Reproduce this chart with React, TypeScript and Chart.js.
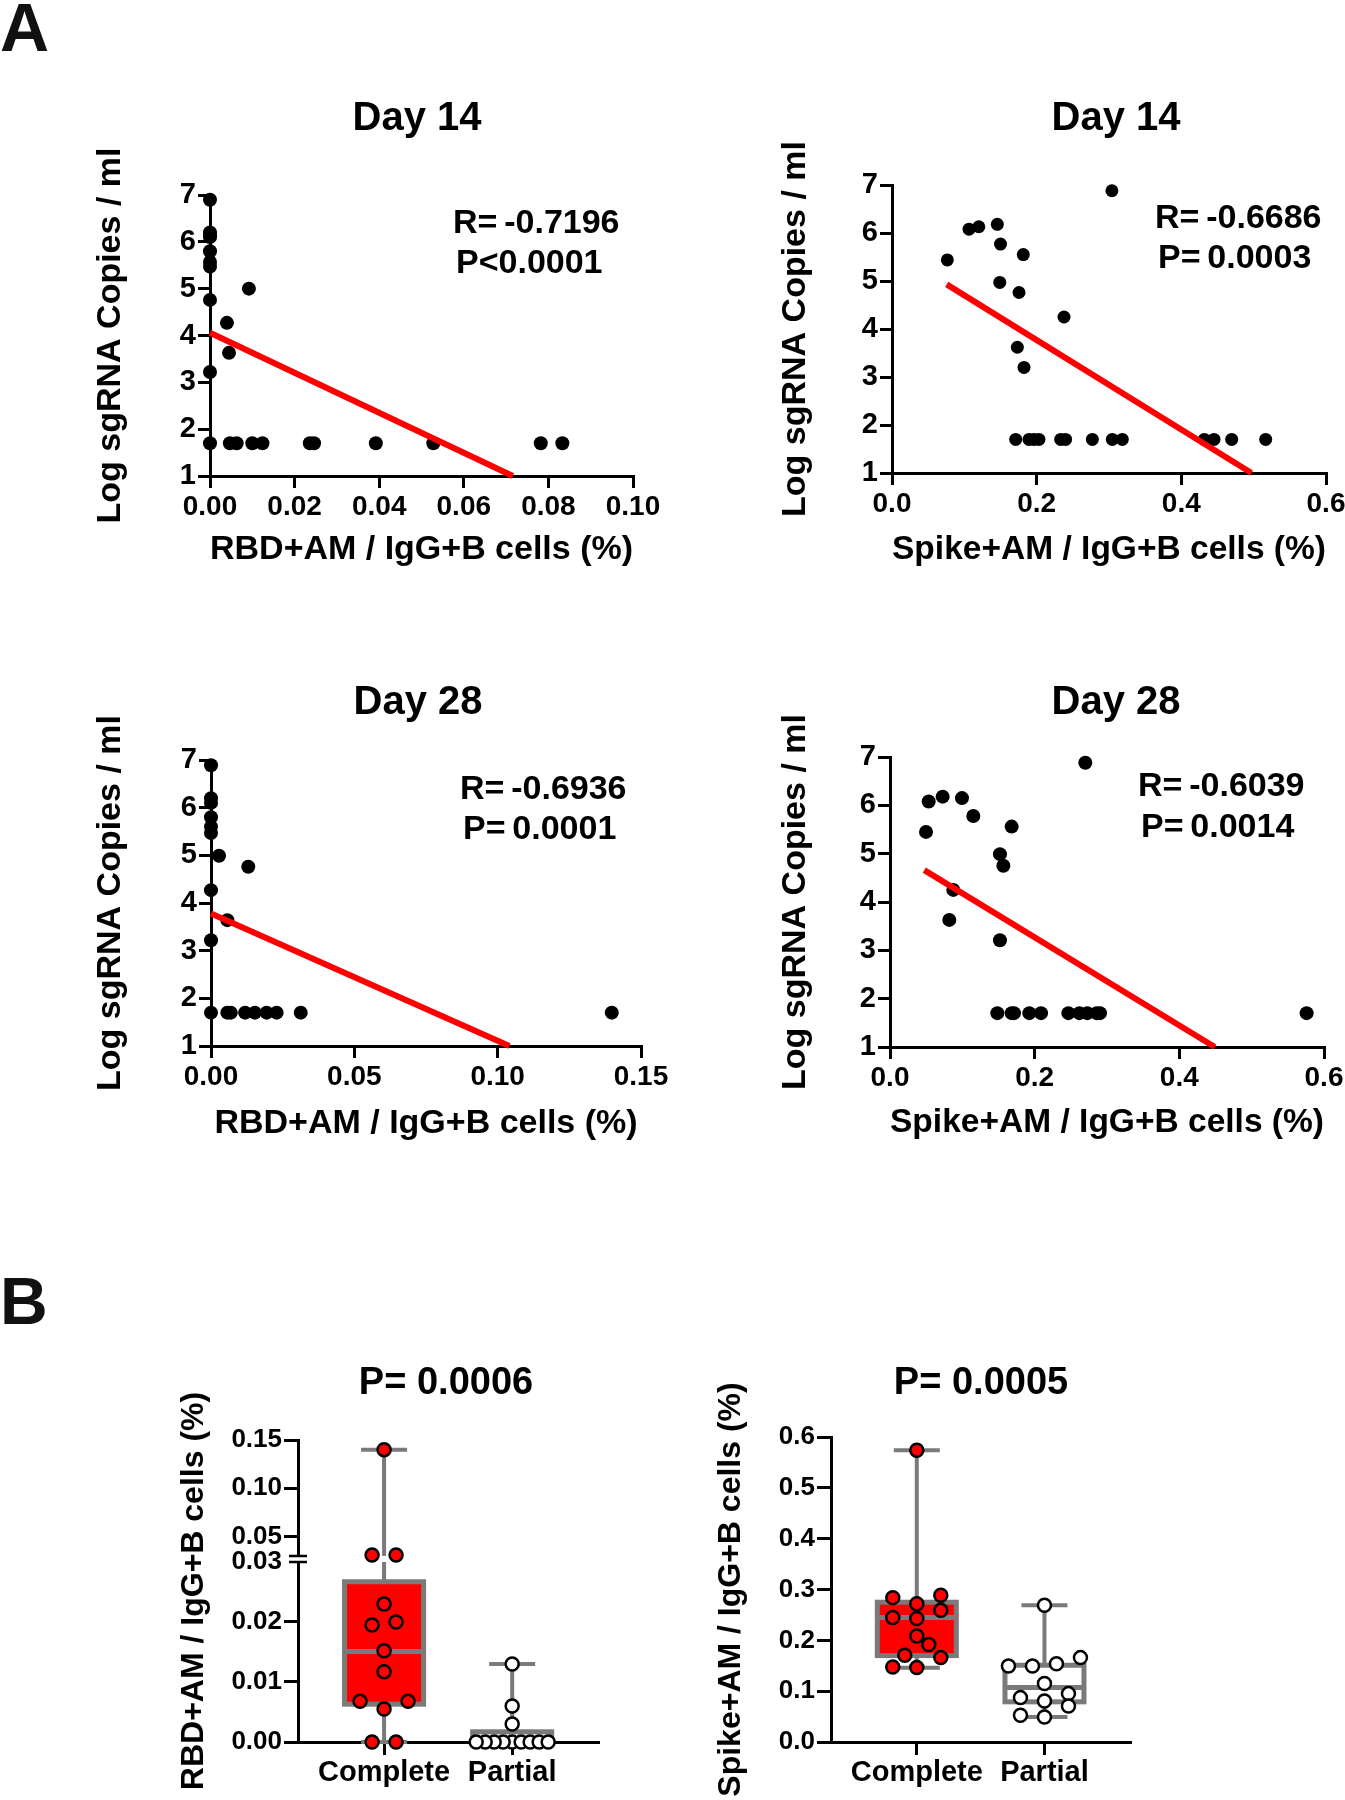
import React, { useEffect, useRef } from "react";
import { Chart, registerables } from "chart.js";

Chart.register(...registerables);

const FONT = "'Liberation Sans', Arial, Helvetica, sans-serif";
const RED = "#ff0000";
const GRAY = "#7a7a7a";

// ---------------- Panel A data ----------------
const logTicks = [1, 2, 3, 4, 5, 6, 7];
const logTitle = "Log sgRNA Copies / ml";

// Day 14, RBD
const d14RbdX = [0, 0, 0, 0, 0, 0, 0, 0, 0, 0, 0.0092, 0.004, 0.0045, 0.0047, 0.0063, 0.01, 0.0124, 0.0236, 0.0246, 0.0392, 0.0528, 0.0782, 0.0833];
const d14RbdY = [6.9, 6.2, 6.15, 6.1, 5.8, 5.57, 5.47, 4.76, 3.22, 1.7, 5.0, 4.27, 3.63, 1.7, 1.7, 1.7, 1.7, 1.7, 1.7, 1.7, 1.7, 1.7, 1.7];
const d14RbdFitX = [0, 0.0716];
const d14RbdFitY = [4.06, 1.0];
const d14RbdTicks = [0, 0.02, 0.04, 0.06, 0.08, 0.1];

// Day 14, Spike
const d14SpikeX = [0.0765, 0.1065, 0.12, 0.1456, 0.15, 0.1815, 0.149, 0.1756, 0.2378, 0.1733, 0.1825, 0.304, 0.171, 0.1894, 0.1963, 0.2032, 0.2332, 0.24, 0.277, 0.3046, 0.3184, 0.4318, 0.4452, 0.4696, 0.5166];
const d14SpikeY = [5.44, 6.08, 6.13, 6.18, 5.77, 5.55, 4.97, 4.76, 4.25, 3.62, 3.2, 6.88, 1.7, 1.7, 1.7, 1.7, 1.7, 1.7, 1.7, 1.7, 1.7, 1.7, 1.7, 1.7, 1.7];
const d14SpikeFitX = [0.0756, 0.497];
const d14SpikeFitY = [4.93, 1.0];
const spikeTicks = [0, 0.2, 0.4, 0.6];

// Day 28, RBD
const d28RbdX = [0, 0, 0, 0, 0, 0, 0, 0, 0, 0.0028, 0.013, 0.0057, 0.0057, 0.0069, 0.0119, 0.0153, 0.0194, 0.0229, 0.0313, 0.1398];
const d28RbdY = [6.89, 6.2, 6.1, 5.8, 5.6, 5.47, 4.27, 3.22, 1.7, 4.99, 4.76, 3.64, 1.7, 1.7, 1.7, 1.7, 1.7, 1.7, 1.7, 1.7];
const d28RbdFitX = [0, 0.1041];
const d28RbdFitY = [3.78, 1.0];
const d28RbdTicks = [0, 0.05, 0.1, 0.15];

// Day 28, Spike
const d28SpikeX = [0.0498, 0.0535, 0.0728, 0.0995, 0.1152, 0.1682, 0.152, 0.1567, 0.0875, 0.082, 0.152, 0.27, 0.1484, 0.1682, 0.1714, 0.1926, 0.2088, 0.2466, 0.2618, 0.2728, 0.2857, 0.2903, 0.576];
const d28SpikeY = [5.45, 6.08, 6.18, 6.15, 5.78, 5.56, 4.99, 4.75, 4.25, 3.63, 3.21, 6.88, 1.7, 1.7, 1.7, 1.7, 1.7, 1.7, 1.7, 1.7, 1.7, 1.7, 1.7];
const d28SpikeFitX = [0.0474, 0.449];
const d28SpikeFitY = [4.66, 1.0];

const statsD14Rbd = ["R=\u2009-0.7196", "P<0.0001"];
const statsD14Spike = ["R=\u2009-0.6686", "P=\u20090.0003"];
const statsD28Rbd = ["R=\u2009-0.6936", "P=\u20090.0001"];
const statsD28Spike = ["R=\u2009-0.6039", "P=\u20090.0014"];

// ---------------- Panel B data ----------------
const groups = ["Complete", "Partial"];
const rbdComplete = [0.14, 0.031, 0.031, 0.023, 0.0195, 0.02, 0.0152, 0.0117, 0.0068, 0.0068, 0.0055, 0, 0];
const rbdPartial = [0.013, 0.006, 0.003, 0, 0, 0, 0, 0, 0, 0, 0, 0];
// [min, q1, median, q3, max]
const rbdBoxComplete = [0, 0.0063, 0.0151, 0.0267, 0.14];
const rbdBoxPartial = [0, 0, 0, 0.0017, 0.013];
const rbdTicks = [0, 0.01, 0.02, 0.03, 0.05, 0.1, 0.15];
const rbdTickLabels = ["0.00", "0.01", "0.02", "0.03", "0.05", "0.10", "0.15"];

const spikeComplete = [0.574, 0.2886, 0.272, 0.284, 0.259, 0.245, 0.243, 0.2086, 0.1916, 0.1706, 0.166, 0.1464, 0.1476];
const spikePartial = [0.269, 0.1496, 0.1496, 0.154, 0.166, 0.115, 0.0807, 0.0873, 0.0952, 0.0708, 0.0492, 0.0525];
const spikeBoxComplete = [0.146, 0.17, 0.245, 0.275, 0.574];
const spikeBoxPartial = [0.049, 0.079, 0.107, 0.151, 0.269];
const spikeBoxTicks = [0, 0.1, 0.2, 0.3, 0.4, 0.5, 0.6];

const pRbd = "P= 0.0006";
const pSpike = "P= 0.0005";

// broken axis for the RBD box chart: 0..0.03 linear, then compressed 0.03..0.15
const BRK = 0.03;
const BRK_GAP = 0.1;
const UPPER_SCALE = 16.1;
const tRbd = (v: number) => (v <= BRK ? v * 100 : BRK * 100 + BRK_GAP + (v - BRK) * UPPER_SCALE);
const tId = (v: number) => v;

// ---------------- helpers ----------------
type Box = { l: number; t: number; r: number; b: number };
type TextItem = { text: string; x: number; y: number; size: number; align: CanvasTextAlign };

function padFor(canvas: Box, area: Box, wy: number, hx: number) {
  return {
    left: area.l - wy - canvas.l,
    top: area.t - canvas.t,
    right: canvas.r - area.r,
    bottom: canvas.b - area.b - hx,
  };
}

function textPlugin(canvas: Box, items: TextItem[]) {
  return {
    id: "panelText",
    afterDraw(chart: any) {
      const ctx = chart.ctx;
      ctx.save();
      ctx.fillStyle = "#000";
      ctx.textBaseline = "alphabetic";
      items.forEach((it) => {
        ctx.font = `bold ${it.size}px ${FONT}`;
        ctx.textAlign = it.align;
        ctx.fillText(it.text, it.x - canvas.l, it.y - canvas.t);
      });
      ctx.restore();
    },
  };
}

const axisGrid = (len: number, tickColor: any = "#000") => ({
  display: true,
  drawOnChartArea: false,
  drawTicks: true,
  tickLength: len,
  tickWidth: 3,
  tickColor,
  color: "#000",
  lineWidth: 3,
});
const axisBorder = { display: true, color: "#000", width: 3 };

interface ScatterSpec {
  canvas: Box;
  area: Box;
  wy: number;
  hx: number;
  xs: number[];
  ys: number[];
  fitX: number[];
  fitY: number[];
  xTicks: number[];
  xDec: number;
  xTitle: string;
  radius: number;
  texts: TextItem[];
}

function scatterConfig(s: ScatterSpec): any {
  const xMax = s.xTicks[s.xTicks.length - 1];
  return {
    type: "scatter",
    data: {
      datasets: [
        {
          data: s.fitX.map((x, i) => ({ x, y: s.fitY[i] })),
          showLine: true,
          borderColor: RED,
          backgroundColor: RED,
          borderWidth: 6,
          pointRadius: 0,
          borderCapStyle: "butt",
          clip: false,
        },
        {
          data: s.xs.map((x, i) => ({ x, y: s.ys[i] })),
          pointRadius: s.radius,
          backgroundColor: "#000",
          borderColor: "#000",
          borderWidth: 0,
          clip: false,
        },
      ],
    },
    options: {
      responsive: false,
      animation: false,
      devicePixelRatio: 1,
      events: [],
      layout: { padding: padFor(s.canvas, s.area, s.wy, s.hx) },
      plugins: { legend: { display: false }, tooltip: { enabled: false }, title: { display: false } },
      scales: {
        x: {
          type: "linear",
          min: 0,
          max: xMax,
          afterBuildTicks: (sc: any) => {
            sc.ticks = s.xTicks.map((v) => ({ value: v }));
          },
          afterFit: (sc: any) => {
            sc.height = s.hx;
            sc.paddingLeft = 0;
            sc.paddingRight = 0;
          },
          ticks: {
            callback: (v: any) => Number(v).toFixed(s.xDec),
            font: { family: FONT, size: 28, weight: "bold" },
            color: "#000",
            padding: 2,
            maxRotation: 0,
            minRotation: 0,
            autoSkip: false,
          },
          grid: axisGrid(12),
          border: axisBorder,
          title: { display: true, text: s.xTitle, font: { family: FONT, size: 34, weight: "bold", lineHeight: 1 }, padding: 0, color: "#000" },
        },
        y: {
          type: "linear",
          min: 1,
          max: 7,
          afterBuildTicks: (sc: any) => {
            sc.ticks = logTicks.map((v) => ({ value: v }));
          },
          afterFit: (sc: any) => {
            sc.width = s.wy;
            sc.paddingTop = 0;
            sc.paddingBottom = 0;
          },
          ticks: {
            callback: (v: any) => String(v),
            font: { family: FONT, size: 29, weight: "bold" },
            color: "#000",
            padding: 2,
            autoSkip: false,
          },
          grid: axisGrid(12),
          border: axisBorder,
          title: { display: true, text: logTitle, font: { family: FONT, size: 34, weight: "bold", lineHeight: 1 }, padding: 0, color: "#000" },
        },
      },
    },
    plugins: [textPlugin(s.canvas, s.texts)],
  };
}

// box plot plugin (draws with the chart's own scales)
function boxPlugin(boxes: { cat: number; stats: number[]; fill: string }[], tf: (v: number) => number, broken: boolean) {
  return {
    id: "boxes",
    beforeDatasetsDraw(chart: any) {
      const ctx = chart.ctx;
      const xs = chart.scales.x;
      const ys = chart.scales.y;
      const half = 39.5;
      const cap = 23;
      ctx.save();
      ctx.lineCap = "butt";
      boxes.forEach((b) => {
        const cx = xs.getPixelForValue(b.cat);
        const [mn, q1, md, q3, mx] = b.stats.map((v) => ys.getPixelForValue(tf(v)));
        ctx.strokeStyle = GRAY;
        ctx.lineWidth = 4;
        ctx.beginPath();
        ctx.moveTo(cx, mn);
        ctx.lineTo(cx, mx);
        ctx.moveTo(cx - cap, mn);
        ctx.lineTo(cx + cap, mn);
        ctx.moveTo(cx - cap, mx);
        ctx.lineTo(cx + cap, mx);
        ctx.stroke();
        if (broken) {
          const yA = ys.getPixelForValue(BRK * 100);
          const yB = ys.getPixelForValue(BRK * 100 + BRK_GAP);
          if (mx < yB) {
            ctx.fillStyle = "#fff";
            ctx.fillRect(cx - 4, yB, 8, yA - yB);
          }
        }
        ctx.fillStyle = b.fill;
        ctx.fillRect(cx - half, q3, half * 2, q1 - q3);
        ctx.lineWidth = 5;
        ctx.strokeRect(cx - half, q3, half * 2, q1 - q3);
        ctx.beginPath();
        ctx.moveTo(cx - half, md);
        ctx.lineTo(cx + half, md);
        ctx.stroke();
      });
      if (broken) {
        const ax = chart.chartArea.left;
        const yA = ys.getPixelForValue(BRK * 100);
        const yB = ys.getPixelForValue(BRK * 100 + BRK_GAP);
        ctx.fillStyle = "#fff";
        ctx.fillRect(ax - 3, yB, 6, yA - yB);
        ctx.strokeStyle = "#000";
        ctx.lineWidth = 2.5;
        ctx.beginPath();
        ctx.moveTo(ax - 9, yA);
        ctx.lineTo(ax + 9, yA);
        ctx.moveTo(ax - 9, yB);
        ctx.lineTo(ax + 9, yB);
        ctx.stroke();
      }
      ctx.restore();
    },
  };
}

function swarmOffsets(pix: number[], step: number, rowH: number, maxHalf: number): number[] {
  const order = pix.map((_, i) => i).sort((a, b) => pix[b] - pix[a]);
  const out = new Array(pix.length).fill(0);
  let row: number[] = [];
  let start = 0;
  const flush = () => {
    const n = row.length;
    if (!n) return;
    let sp = step;
    if (((n - 1) * step) / 2 > maxHalf) sp = (2 * maxHalf) / (n - 1);
    let slots = row.map((_, k) => (k - (n - 1) / 2) * sp);
    if (n % 2 === 1) slots = slots.slice().sort((a, b) => Math.abs(a) - Math.abs(b) || a - b);
    row.forEach((idx, k) => {
      out[idx] = slots[k];
    });
    row = [];
  };
  for (const i of order) {
    if (row.length && Math.abs(pix[i] - start) >= rowH) flush();
    if (!row.length) start = pix[i];
    row.push(i);
  }
  flush();
  return out;
}

interface BoxSpec {
  canvas: Box;
  area: Box;
  wy: number;
  hx: number;
  complete: number[];
  partial: number[];
  boxComplete: number[];
  boxPartial: number[];
  partialFill: string;
  tf: (v: number) => number;
  broken: boolean;
  yTicks: number[];
  yLabels: string[];
  yTitle: string;
  texts: TextItem[];
}

function boxConfig(s: BoxSpec): any {
  const ptStyle = (fill: string) => ({
    pointRadius: 6.5,
    backgroundColor: fill,
    borderColor: "#000",
    borderWidth: 2.5,
    clip: false,
  });
  return {
    type: "scatter",
    data: {
      datasets: [
        { data: s.complete.map((v) => ({ x: 1, y: s.tf(v) })), ...ptStyle(RED) },
        { data: s.partial.map((v) => ({ x: 2, y: s.tf(v) })), ...ptStyle("#fff") },
      ],
    },
    options: {
      responsive: false,
      animation: false,
      devicePixelRatio: 1,
      events: [],
      layout: { padding: padFor(s.canvas, s.area, s.wy, s.hx) },
      plugins: { legend: { display: false }, tooltip: { enabled: false }, title: { display: false } },
      scales: {
        x: {
          type: "linear",
          min: 0.328,
          max: 2.67,
          afterBuildTicks: (sc: any) => {
            sc.ticks = groups.map((_, i) => ({ value: i + 1 }));
          },
          afterFit: (sc: any) => {
            sc.height = s.hx;
            sc.paddingLeft = 0;
            sc.paddingRight = 0;
          },
          ticks: {
            callback: (v: any) => groups[Math.round(Number(v)) - 1],
            font: { family: FONT, size: 29, weight: "bold" },
            color: "#000",
            padding: 1,
            maxRotation: 0,
            minRotation: 0,
            autoSkip: false,
          },
          grid: axisGrid(13),
          border: axisBorder,
        },
        y: {
          type: "linear",
          min: s.tf(s.yTicks[0]),
          max: s.tf(s.yTicks[s.yTicks.length - 1]),
          afterBuildTicks: (sc: any) => {
            sc.ticks = s.yTicks.map((v) => ({ value: s.tf(v) }));
          },
          afterFit: (sc: any) => {
            sc.width = s.wy;
            sc.paddingTop = 0;
            sc.paddingBottom = 0;
          },
          ticks: {
            callback: (_v: any, i: number) => s.yLabels[i],
            font: { family: FONT, size: 26, weight: "bold" },
            color: "#000",
            padding: 2,
            autoSkip: false,
          },
          grid: axisGrid(14, (c: any) => (s.broken && s.yTicks[c.index] === BRK ? "rgba(0,0,0,0)" : "#000")),
          border: axisBorder,
          title: { display: true, text: s.yTitle, font: { family: FONT, size: 32, weight: "bold", lineHeight: 1 }, padding: 0, color: "#000" },
        },
      },
    },
    plugins: [
      boxPlugin(
        [
          { cat: 1, stats: s.boxComplete, fill: RED },
          { cat: 2, stats: s.boxPartial, fill: s.partialFill },
        ],
        s.tf,
        s.broken
      ),
      textPlugin(s.canvas, s.texts),
    ],
  };
}

// ---------------- chart specs ----------------
const A1: ScatterSpec = {
  canvas: { l: 60, t: 60, r: 700, b: 620 },
  area: { l: 210, t: 195, r: 633, b: 476 },
  wy: 116,
  hx: 91,
  xs: d14RbdX,
  ys: d14RbdY,
  fitX: d14RbdFitX,
  fitY: d14RbdFitY,
  xTicks: d14RbdTicks,
  xDec: 2,
  xTitle: "RBD+AM / IgG+B cells (%)",
  radius: 7,
  texts: [
    { text: "Day 14", x: 417, y: 130, size: 40, align: "center" },
    { text: statsD14Rbd[0], x: 453, y: 233, size: 34, align: "left" },
    { text: statsD14Rbd[1], x: 456, y: 273, size: 34, align: "left" },
  ],
};
const A2: ScatterSpec = {
  canvas: { l: 740, t: 50, r: 1345, b: 620 },
  area: { l: 892, t: 185, r: 1326, b: 473 },
  wy: 113,
  hx: 94,
  xs: d14SpikeX,
  ys: d14SpikeY,
  fitX: d14SpikeFitX,
  fitY: d14SpikeFitY,
  xTicks: spikeTicks,
  xDec: 1,
  xTitle: "Spike+AM / IgG+B cells (%)",
  radius: 6.5,
  texts: [
    { text: "Day 14", x: 1116, y: 130, size: 40, align: "center" },
    { text: statsD14Spike[0], x: 1155, y: 228, size: 34, align: "left" },
    { text: statsD14Spike[1], x: 1158, y: 268, size: 34, align: "left" },
  ],
};
const A3: ScatterSpec = {
  canvas: { l: 60, t: 630, r: 700, b: 1190 },
  area: { l: 211, t: 760, r: 641, b: 1046 },
  wy: 117,
  hx: 95,
  xs: d28RbdX,
  ys: d28RbdY,
  fitX: d28RbdFitX,
  fitY: d28RbdFitY,
  xTicks: d28RbdTicks,
  xDec: 2,
  xTitle: "RBD+AM / IgG+B cells (%)",
  radius: 7,
  texts: [
    { text: "Day 28", x: 418, y: 714, size: 40, align: "center" },
    { text: statsD28Rbd[0], x: 460, y: 799, size: 34, align: "left" },
    { text: statsD28Rbd[1], x: 463, y: 839, size: 34, align: "left" },
  ],
};
const A4: ScatterSpec = {
  canvas: { l: 740, t: 630, r: 1345, b: 1190 },
  area: { l: 890, t: 757, r: 1324, b: 1047 },
  wy: 111,
  hx: 93,
  xs: d28SpikeX,
  ys: d28SpikeY,
  fitX: d28SpikeFitX,
  fitY: d28SpikeFitY,
  xTicks: spikeTicks,
  xDec: 1,
  xTitle: "Spike+AM / IgG+B cells (%)",
  radius: 7,
  texts: [
    { text: "Day 28", x: 1116, y: 714, size: 40, align: "center" },
    { text: statsD28Spike[0], x: 1138, y: 796, size: 34, align: "left" },
    { text: statsD28Spike[1], x: 1141, y: 837, size: 34, align: "left" },
  ],
};

const B1: BoxSpec = {
  canvas: { l: 150, t: 1340, r: 660, b: 1800 },
  area: { l: 298, t: 1440, r: 598, b: 1742 },
  wy: 120,
  hx: 58,
  complete: rbdComplete,
  partial: rbdPartial,
  boxComplete: rbdBoxComplete,
  boxPartial: rbdBoxPartial,
  partialFill: "#fff",
  tf: tRbd,
  broken: true,
  yTicks: rbdTicks,
  yLabels: rbdTickLabels,
  yTitle: "RBD+AM / IgG+B cells (%)",
  texts: [{ text: pRbd, x: 446, y: 1394, size: 38, align: "center" }],
};
const B2: BoxSpec = {
  canvas: { l: 690, t: 1340, r: 1200, b: 1800 },
  area: { l: 831, t: 1437, r: 1130, b: 1742 },
  wy: 116,
  hx: 58,
  complete: spikeComplete,
  partial: spikePartial,
  boxComplete: spikeBoxComplete,
  boxPartial: spikeBoxPartial,
  partialFill: "#fff",
  tf: tId,
  broken: false,
  yTicks: spikeBoxTicks,
  yLabels: spikeBoxTicks.map((v) => v.toFixed(1)),
  yTitle: "Spike+AM / IgG+B cells (%)",
  texts: [{ text: pSpike, x: 981, y: 1394, size: 38, align: "center" }],
};

function ChartCanvas({ rect, make, swarm }: { rect: Box; make: () => any; swarm?: boolean }) {
  const ref = useRef<HTMLCanvasElement | null>(null);
  useEffect(() => {
    if (!ref.current) return;
    const chart = new Chart(ref.current, make());
    if (swarm) {
      const xs: any = chart.scales.x;
      const ys: any = chart.scales.y;
      const unit = xs.getPixelForValue(2) - xs.getPixelForValue(1);
      chart.data.datasets.forEach((ds: any, di: number) => {
        const pix = ds.data.map((p: any) => ys.getPixelForValue(p.y));
        const off = swarmOffsets(pix, 24, 12, 36);
        ds.data.forEach((p: any, k: number) => {
          p.x = di + 1 + off[k] / unit;
        });
      });
      chart.update();
    }
    return () => chart.destroy();
  }, []);
  const w = rect.r - rect.l;
  const h = rect.b - rect.t;
  return (
    <canvas
      ref={ref}
      width={w}
      height={h}
      style={{ position: "absolute", left: rect.l, top: rect.t, width: w, height: h }}
    />
  );
}

const labelStyle = (size: number, top: number): React.CSSProperties => ({
  position: "absolute",
  left: 0,
  top,
  fontFamily: FONT,
  fontWeight: "bold",
  fontSize: size,
  lineHeight: `${size}px`,
  color: "#111",
  margin: 0,
});

export default function App() {
  return (
    <div
      style={{
        position: "absolute",
        left: 0,
        top: 0,
        width: 1345,
        height: 1800,
        overflow: "hidden",
        background: "#fff",
      }}
    >
      <div style={labelStyle(68, -7)}>A</div>
      <div style={labelStyle(66, 1268)}>B</div>
      <ChartCanvas rect={A1.canvas} make={() => scatterConfig(A1)} />
      <ChartCanvas rect={A2.canvas} make={() => scatterConfig(A2)} />
      <ChartCanvas rect={A3.canvas} make={() => scatterConfig(A3)} />
      <ChartCanvas rect={A4.canvas} make={() => scatterConfig(A4)} />
      <ChartCanvas rect={B1.canvas} make={() => boxConfig(B1)} swarm />
      <ChartCanvas rect={B2.canvas} make={() => boxConfig(B2)} swarm />
    </div>
  );
}
